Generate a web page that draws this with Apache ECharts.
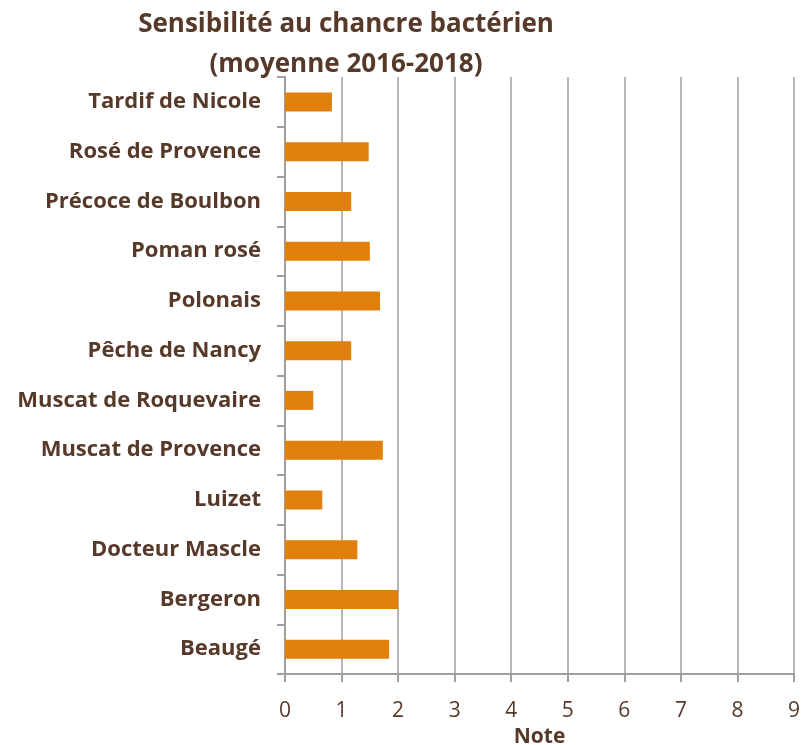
<!DOCTYPE html>
<html>
<head>
<meta charset="utf-8">
<script src="https://cdn.jsdelivr.net/npm/echarts@6/dist/echarts.min.js"></script>
<style>html,body{margin:0;padding:0;background:#fff}#c{width:805px;height:745px}</style>
</head>
<body>
<div id="c"></div>
<script>
const categories = ["Tardif de Nicole","Rosé de Provence","Précoce de Boulbon","Poman rosé","Polonais","Pêche de Nancy","Muscat de Roquevaire","Muscat de Provence","Luizet","Docteur Mascle","Bergeron","Beaugé"];
const values = [0.83, 1.48, 1.17, 1.5, 1.68, 1.17, 0.5, 1.73, 0.66, 1.28, 2.0, 1.84];
const xTicks = [0,1,2,3,4,5,6,7,8,9];
const titleText = "Sensibilité au chancre bactérien\n(moyenne 2016-2018)";
const xName = "Note";

const brown = '#57392a';
const grey = '#a39e9b';
const font = '"Open Sans", sans-serif';
const chart = echarts.init(document.getElementById('c'));
chart.setOption({
  animation: false,
  textStyle: {fontFamily: font},
  title: {
    text: titleText, left: 341, top: 0, textAlign: 'center',
    textStyle: {fontFamily: font, fontSize: 26, fontWeight: 'bold', color: brown, lineHeight: 40}
  },
  grid: {left: 285, right: 11, top: 77, bottom: 71, containLabel: false, outerBoundsMode: 'none'},
  xAxis: {
    type: 'value', min: xTicks[0], max: xTicks[xTicks.length-1], interval: 1,
    name: xName, nameLocation: 'middle', nameGap: 53,
    nameTextStyle: {fontFamily: font, fontSize: 21, fontWeight: 'bold', color: brown},
    axisLine: {show: true, lineStyle: {color: grey, width: 2}},
    axisTick: {show: true, length: 8, lineStyle: {color: grey, width: 2}},
    axisLabel: {fontFamily: font, fontSize: 21, color: brown, margin: 27},
    splitLine: {show: true, lineStyle: {color: grey, width: 1.5}}
  },
  yAxis: {
    type: 'category', data: categories, inverse: true,
    axisLine: {show: true, lineStyle: {color: grey, width: 2}},
    axisTick: {show: true, length: 8, lineStyle: {color: grey, width: 2}},
    axisLabel: {fontFamily: font, fontSize: 22, fontWeight: 'bold', color: brown, margin: 24}
  },
  series: [{
    type: 'bar', data: values, barWidth: 19,
    itemStyle: {color: '#e07f0b'}
  }]
});
</script>
</body>
</html>
